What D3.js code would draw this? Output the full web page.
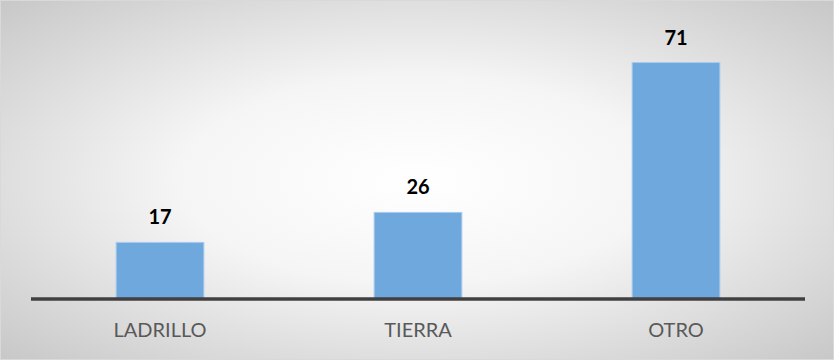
<!DOCTYPE html>
<html>
<head>
<meta charset="utf-8">
<script src="https://cdn.jsdelivr.net/npm/d3@7"></script>
<style>
  html, body { margin: 0; padding: 0; background: #fff; }
  svg { display: block; }
</style>
</head>
<body>
<svg id="chart" width="834" height="360"></svg>
<script>
const categories = ["LADRILLO", "TIERRA", "OTRO"];
const values = [17, 26, 71];

const W = 834, H = 360;
const svg = d3.select("#chart");

// Radial background: white centre fading to grey at the edges
const defs = svg.append("defs");
const bg = defs.append("radialGradient")
  .attr("id", "bg").attr("cx", "50%").attr("cy", "50%").attr("r", "72%")
  .attr("gradientUnits", "objectBoundingBox");
bg.append("stop").attr("offset", "0%").attr("stop-color", "#ffffff");
bg.append("stop").attr("offset", "40%").attr("stop-color", "#f5f5f5");
bg.append("stop").attr("offset", "100%").attr("stop-color", "#c6c6c6");

svg.append("rect")
  .attr("x", 0.5).attr("y", 0.5).attr("width", W - 1).attr("height", H - 1)
  .attr("fill", "url(#bg)").attr("stroke", "#d9d9d9").attr("stroke-width", 1);

const x = d3.scaleBand()
  .domain(categories)
  .range([31, 805])
  .paddingInner(0.66)
  .paddingOuter(0.33);

const y = d3.scaleLinear().domain([0, 80]).range([299, 32.6]);

const data = categories.map((c, i) => ({ c, v: values[i] }));

svg.append("g").selectAll("rect")
  .data(data).join("rect")
  .attr("x", d => x(d.c))
  .attr("y", d => y(d.v))
  .attr("width", x.bandwidth())
  .attr("height", d => y(0) - y(d.v))
  .attr("fill", "#6fa8dc")
  .attr("stroke", "#a9cbeb")
  .attr("stroke-width", 1);

// Value labels
svg.append("g").selectAll("text")
  .data(data).join("text")
  .attr("x", d => x(d.c) + x.bandwidth() / 2)
  .attr("y", d => y(d.v) - 18)
  .attr("text-anchor", "middle")
  .attr("font-family", "Lato, 'Open Sans', sans-serif")
  .attr("font-weight", "bold")
  .attr("font-size", 20)
  .attr("fill", "#000")
  .text(d => d.v);

// Baseline
svg.append("line")
  .attr("x1", 31).attr("x2", 805)
  .attr("y1", y(0)).attr("y2", y(0))
  .attr("stroke", "#404040").attr("stroke-width", 3.5);

// Category axis labels
const xAxis = d3.axisBottom(x).tickSize(0).tickPadding(0);
const ax = svg.append("g").attr("transform", `translate(0,${y(0)})`).call(xAxis);
ax.select(".domain").remove();
ax.selectAll("text")
  .attr("dy", 0)
  .attr("y", 38)
  .attr("font-family", "Lato, 'Open Sans', sans-serif")
  .attr("font-size", 20)
  .attr("fill", "#595959");
</script>
</body>
</html>
